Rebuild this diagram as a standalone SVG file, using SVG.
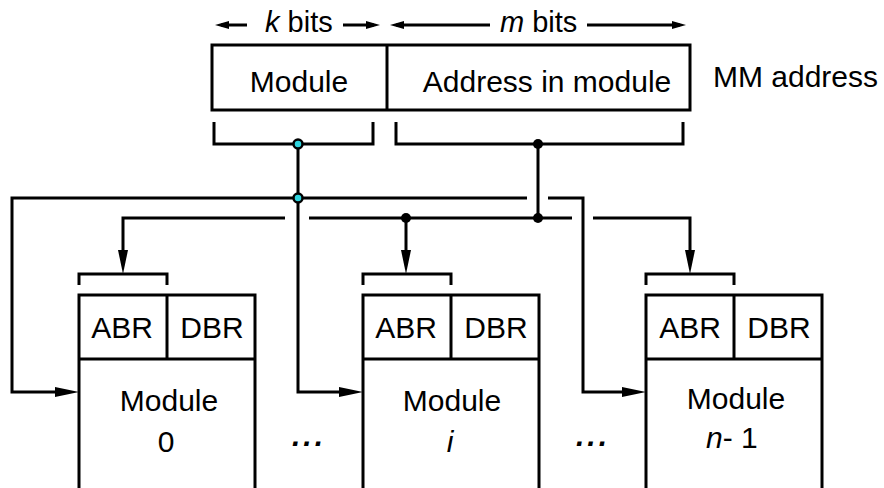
<svg xmlns="http://www.w3.org/2000/svg" width="884" height="488" viewBox="0 0 884 488">
  <style>
    .box { fill: #ffffff; stroke: #000000; stroke-width: 3; }
    .ln { fill: none; stroke: #000000; stroke-width: 3; stroke-linejoin: miter; }
    .wire { fill: none; stroke: #000000; stroke-width: 3; stroke-linejoin: miter; marker-end: url(#head); }
    .dim { fill: none; stroke: #000000; stroke-width: 3; marker-end: url(#small); }
    text { font-family: "Liberation Sans", Arial, sans-serif; font-size: 30px; fill: #000000; }
    .lbl { font-size: 29px; }
    .c { text-anchor: middle; }
    .it { font-style: italic; }
    .dot { fill: #000000; }
    .tap { fill: #2fd4de; stroke: #000000; stroke-width: 2.5; }
  </style>
  <defs>
    <marker id="head" viewBox="0 0 24 10" refX="12" refY="5" markerWidth="24" markerHeight="10" markerUnits="userSpaceOnUse" orient="auto">
      <path d="M0,0 L24,5 L0,10 Z" fill="#000000"/>
    </marker>
    <marker id="small" viewBox="0 0 14 8" refX="8" refY="4" markerWidth="14" markerHeight="8" markerUnits="userSpaceOnUse" orient="auto">
      <path d="M0,0 L14,4 L0,8 Z" fill="#000000"/>
    </marker>
  </defs>

  <!-- field widths above the address word -->
  <g id="field-widths">
    <path class="dim" d="M247 25 H221"/>
    <path class="dim" d="M343 25 H374"/>
    <text class="lbl" x="265" y="32"><tspan class="it">k</tspan> bits</text>
    <path class="dim" d="M490 25 H396"/>
    <path class="dim" d="M587 25 H680"/>
    <text class="lbl" x="500" y="32"><tspan class="it">m</tspan> bits</text>
  </g>

  <!-- main-memory address word -->
  <g id="mm-address">
    <rect class="box" x="212" y="45" width="478" height="65"/>
    <line class="ln" x1="387" y1="45" x2="387" y2="110"/>
    <text class="c" x="299" y="92">Module</text>
    <text class="c" x="547" y="92">Address in module</text>
    <text x="713" y="87">MM address</text>
  </g>

  <!-- bus connectors -->
  <g id="connectors">
    <!-- field brackets under the address word -->
    <path class="ln" d="M214 122 V144 H373 V122"/>
    <path class="ln" d="M396 122 V144 H683 V122"/>

    <!-- module select lines -->
    <path class="wire" d="M298 144 V392 H351"/>
    <path class="wire" d="M527 198 H12 V392 H67"/>
    <path class="wire" d="M548 198 H583 V392 H634"/>

    <!-- address-in-module lines -->
    <path class="ln" d="M538 144 V218"/>
    <path class="wire" d="M285 218 H123 V262"/>
    <path class="ln" d="M309 218 H572"/>
    <path class="wire" d="M593 218 H690 V262"/>
    <path class="wire" d="M406 218 V262"/>

    <!-- junctions -->
    <circle class="tap" cx="298" cy="144" r="4.5"/>
    <circle class="tap" cx="298" cy="198" r="4.5"/>
    <circle class="dot" cx="538" cy="144" r="5"/>
    <circle class="dot" cx="538" cy="218" r="5"/>
    <circle class="dot" cx="406" cy="218" r="5"/>

    <!-- ABR brackets -->
    <path class="ln" d="M79 285 V274 H167 V285"/>
    <path class="ln" d="M363 285 V274 H451 V285"/>
    <path class="ln" d="M646 285 V274 H734 V285"/>
  </g>

  <!-- memory modules -->
  <g id="module-0">
    <rect class="box" x="79" y="295" width="176" height="200"/>
    <line class="ln" x1="79" y1="359" x2="255" y2="359"/>
    <line class="ln" x1="167" y1="295" x2="167" y2="359"/>
    <text class="c" x="122" y="338">ABR</text>
    <text class="c" x="212" y="338">DBR</text>
    <text class="c" x="169" y="411">Module</text>
    <text class="c" x="166" y="452">0</text>
  </g>

  <g id="module-i">
    <rect class="box" x="363" y="295" width="176" height="200"/>
    <line class="ln" x1="363" y1="359" x2="539" y2="359"/>
    <line class="ln" x1="451" y1="295" x2="451" y2="359"/>
    <text class="c" x="406" y="338">ABR</text>
    <text class="c" x="496" y="338">DBR</text>
    <text class="c" x="452" y="411">Module</text>
    <text class="c it" x="450" y="452">i</text>
  </g>

  <g id="module-n-1">
    <rect class="box" x="646" y="295" width="176" height="200"/>
    <line class="ln" x1="646" y1="359" x2="822" y2="359"/>
    <line class="ln" x1="734" y1="295" x2="734" y2="359"/>
    <text class="c" x="690" y="338">ABR</text>
    <text class="c" x="779" y="338">DBR</text>
    <text class="c" x="736" y="409">Module</text>
    <text x="706" y="448"><tspan class="it">n</tspan>- 1</text>
  </g>

  <!-- ellipses between modules -->
  <g id="gaps">
    <text class="it" x="292" y="446" style="font-weight:bold;letter-spacing:3px">...</text>
    <text class="it" x="576" y="446" style="font-weight:bold;letter-spacing:3px">...</text>
  </g>
</svg>
